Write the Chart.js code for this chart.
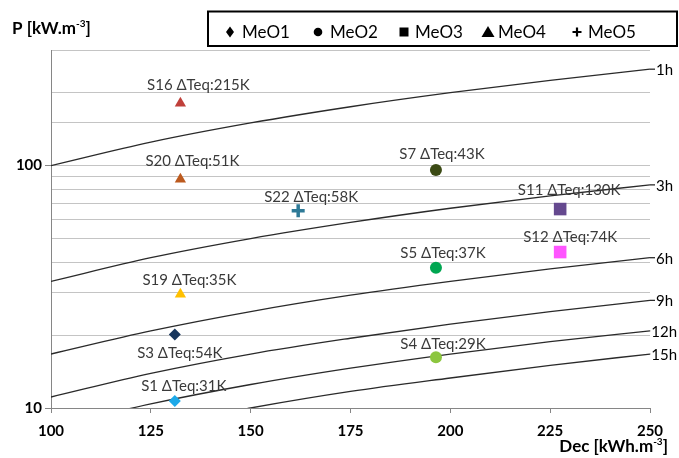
<!DOCTYPE html>
<html>
<head>
<meta charset="utf-8">
<script src="https://cdn.jsdelivr.net/npm/chart.js@4/dist/chart.umd.min.js"></script>
<style>
  html, body { margin: 0; padding: 0; background: #ffffff; }
  #wrap { width: 679px; height: 458px; position: relative; }
</style>
</head>
<body>
<div id="wrap"><canvas id="c" width="679" height="458"></canvas></div>
<script>
// ---------------- DATA ----------------
const decTicks = [100, 125, 150, 175, 200, 225, 250];
const pTickLabels = [10, 100];

const curveLabels = ['1h', '3h', '6h', '9h', '12h', '15h'];
const curveDec = [100, 125, 150, 175, 200, 225, 250];
const curveP1h  = [100, 125, 150, 175, 200, 225, 250];
const curveP3h  = [33.3, 41.7, 50, 58.3, 66.7, 75, 83.3];
const curveP6h  = [16.7, 20.8, 25, 29.2, 33.3, 37.5, 41.7];
const curveP9h  = [11.1, 13.9, 16.7, 19.4, 22.2, 25, 27.8];
const curveP12h = [8.33, 10.4, 12.5, 14.6, 16.7, 18.8, 20.8];
const curveP15h = [6.67, 8.33, 10, 11.7, 13.3, 15, 16.7];

const methods = ['MeO1', 'MeO2', 'MeO3', 'MeO4', 'MeO5'];
const sampleNames  = ['S1 ΔTeq:31K', 'S3 ΔTeq:54K', 'S4 ΔTeq:29K', 'S5 ΔTeq:37K', 'S7 ΔTeq:43K',
                      'S11 ΔTeq:130K', 'S12 ΔTeq:74K', 'S16 ΔTeq:215K', 'S19 ΔTeq:35K', 'S20 ΔTeq:51K', 'S22 ΔTeq:58K'];
const sampleMethod = ['MeO1', 'MeO1', 'MeO2', 'MeO2', 'MeO2', 'MeO3', 'MeO3', 'MeO4', 'MeO4', 'MeO4', 'MeO5'];
const sampleDec    = [131, 131, 196.4, 196.4, 196.4, 227.5, 227.5, 132.4, 132.4, 132.4, 161.9];
const sampleP      = [10.7, 20.1, 16.2, 37.9, 95.9, 66.2, 44.0, 180.8, 29.5, 87.8, 65.2];

// ---------------- STYLE ----------------
const FONT = 'Lato, "Open Sans", "DejaVu Sans", sans-serif';
const C_GRID = '#C4C4C4', C_AXIS = '#868686', C_LABEL = '#3A3A3A', C_CURVE = '#2A2A2A';
const methodStyle = {
  MeO1: { pointStyle: 'rectRot',  radius: 6   },
  MeO2: { pointStyle: 'circle',   radius: 6   },
  MeO3: { pointStyle: 'rect',     radius: 8.9 },
  MeO4: { pointStyle: 'triangle', radius: 6.5 },
  MeO5: { pointStyle: 'cross',    radius: 6.5 }
};
const sampleColor = {
  S1: '#1CA9E9', S3: '#17365D', S4: '#8CC63F', S5: '#00A651', S7: '#3B4A14',
  S11: '#65498F', S12: '#FF55FF', S16: '#C0403A', S19: '#FFC000', S20: '#BC5A1E', S22: '#2E7A97'
};
// label centre offset from the marker, in pixels
const labelOffset = {
  S1: [9, -15], S3: [5, 19], S4: [7, -13], S5: [7, -15], S7: [6, -16],
  S11: [9, -19], S12: [10, -15], S16: [18, -18], S19: [9, -14], S20: [12, -18], S22: [13, -14]
};
const legendLayout = {
  box: [208, 11.5, 469, 34.5], cy: 32,
  symX: [230, 318, 404, 488, 577], textX: [242, 330, 415, 498, 588]
};

// ---------------- BUILD ----------------
const curveSeries = [curveP1h, curveP3h, curveP6h, curveP9h, curveP12h, curveP15h];
const curveDatasets = curveSeries.map((vals, i) => ({
  type: 'line',
  label: curveLabels[i],
  data: curveDec.map((d, j) => ({ x: d, y: vals[j] })),
  borderColor: C_CURVE,
  borderWidth: 1.3,
  pointRadius: 0,
  fill: false,
  cubicInterpolationMode: 'monotone',
  order: 2,
  isCurve: true
}));

const pointDatasets = methods.map(m => {
  const idx = sampleNames.map((_, i) => i).filter(i => sampleMethod[i] === m);
  const ids = idx.map(i => sampleNames[i].split(' ')[0]);
  const cols = ids.map(id => sampleColor[id]);
  const st = methodStyle[m];
  return {
    type: 'scatter',
    label: m,
    data: idx.map(i => ({ x: sampleDec[i], y: sampleP[i], name: sampleNames[i] })),
    pointStyle: st.pointStyle,
    pointRadius: st.radius,
    pointHoverRadius: st.radius,
    backgroundColor: cols,
    borderColor: cols,
    borderWidth: m === 'MeO5' ? 3.5 : 0,
    showLine: false,
    order: 1
  };
});

const overlay = {
  id: 'overlay',
  afterDatasetsDraw(chart) {
    const ctx = chart.ctx;
    const area = chart.chartArea;
    ctx.save();
    // point labels
    ctx.font = '15px ' + FONT;
    ctx.fillStyle = C_LABEL;
    ctx.textAlign = 'center';
    ctx.textBaseline = 'middle';
    chart.data.datasets.forEach((ds, di) => {
      if (ds.isCurve) return;
      const meta = chart.getDatasetMeta(di);
      meta.data.forEach((el, k) => {
        const name = ds.data[k].name;
        const id = name.split(' ')[0];
        const off = labelOffset[id] || [8, -16];
        ctx.fillText(name, el.x + off[0], el.y + off[1]);
      });
    });
    // curve end labels
    ctx.font = '15px ' + FONT;
    ctx.fillStyle = '#000';
    ctx.textAlign = 'left';
    ctx.strokeStyle = C_CURVE;
    ctx.lineWidth = 1.3;
    chart.data.datasets.forEach((ds, di) => {
      if (!ds.isCurve) return;
      const meta = chart.getDatasetMeta(di);
      const last = meta.data[meta.data.length - 1];
      const w = ctx.measureText(ds.label).width;
      const tx = Math.min(area.right + 6, chart.width - 2 - w);
      ctx.beginPath();
      ctx.moveTo(area.right, last.y);
      ctx.lineTo(Math.max(area.right, tx - 1), last.y);
      ctx.stroke();
      ctx.fillText(ds.label, tx, last.y + 1);
    });
    ctx.restore();
  },
  afterDraw(chart) {
    const ctx = chart.ctx;
    ctx.save();
    // axis titles with superscripts
    const drawTitle = (parts, x, y, align) => {
      const big = 'bold 17px ' + FONT, small = 'bold 10px ' + FONT;
      let w = 0;
      parts.forEach(p => { ctx.font = p.sup ? small : big; w += ctx.measureText(p.t).width; });
      let cx = align === 'right' ? x - w : x;
      ctx.textAlign = 'left';
      ctx.textBaseline = 'alphabetic';
      ctx.fillStyle = '#000';
      parts.forEach(p => {
        ctx.font = p.sup ? small : big;
        ctx.fillText(p.t, cx, p.sup ? y - 7 : y);
        cx += ctx.measureText(p.t).width;
      });
    };
    drawTitle([{ t: 'P [kW.m' }, { t: '-3', sup: true }, { t: ']' }], 12, 34, 'left');
    drawTitle([{ t: 'Dec [kWh.m' }, { t: '-3', sup: true }, { t: ']' }], 668, 452, 'right');

    // legend box
    const b = legendLayout.box;
    ctx.lineWidth = 2;
    ctx.strokeStyle = '#000';
    ctx.strokeRect(b[0], b[1], b[2], b[3]);
    const cy = legendLayout.cy;
    methods.forEach((m, i) => {
      const sx = legendLayout.symX[i];
      ctx.fillStyle = '#000';
      ctx.strokeStyle = '#000';
      ctx.beginPath();
      const st = methodStyle[m].pointStyle;
      if (st === 'rectRot') {
        ctx.moveTo(sx, cy - 5.5); ctx.lineTo(sx + 4, cy); ctx.lineTo(sx, cy + 5.5); ctx.lineTo(sx - 4, cy);
        ctx.closePath(); ctx.fill();
      } else if (st === 'circle') {
        ctx.arc(sx, cy, 4.3, 0, Math.PI * 2); ctx.fill();
      } else if (st === 'rect') {
        ctx.rect(sx - 4.5, cy - 4.5, 9, 9); ctx.fill();
      } else if (st === 'triangle') {
        ctx.moveTo(sx, cy - 6); ctx.lineTo(sx + 6.5, cy + 5); ctx.lineTo(sx - 6.5, cy + 5);
        ctx.closePath(); ctx.fill();
      } else {
        ctx.lineWidth = 2.2;
        ctx.moveTo(sx - 4.5, cy); ctx.lineTo(sx + 4.5, cy);
        ctx.moveTo(sx, cy - 4.5); ctx.lineTo(sx, cy + 4.5);
        ctx.stroke();
      }
      ctx.font = '17px ' + FONT;
      ctx.textAlign = 'left';
      ctx.textBaseline = 'alphabetic';
      ctx.fillText(m, legendLayout.textX[i], cy + 6);
    });
    ctx.restore();
  }
};

new Chart(document.getElementById('c'), {
  type: 'scatter',
  data: { datasets: [...pointDatasets, ...curveDatasets] },
  options: {
    responsive: false,
    animation: false,
    devicePixelRatio: 1,
    layout: { padding: { top: 50, right: 29, left: 0, bottom: 0 } },
    plugins: { legend: { display: false }, tooltip: { enabled: false } },
    scales: {
      x: {
        type: 'linear',
        min: decTicks[0],
        max: decTicks[decTicks.length - 1],
        afterBuildTicks: s => { s.ticks = decTicks.map(v => ({ value: v })); },
        afterFit: s => { s.height = 50; },
        ticks: {
          autoSkip: false,
          maxRotation: 0,
          padding: 9,
          color: '#000',
          font: { family: FONT, size: 15, weight: 'bold' },
          callback: v => String(v)
        },
        grid: { drawOnChartArea: false, drawTicks: true, tickLength: 5, tickColor: C_AXIS, tickWidth: 1 },
        border: { display: true, color: C_AXIS, width: 1 }
      },
      y: {
        type: 'logarithmic',
        min: 10,
        max: 300,
        afterFit: s => { s.width = 51; },
        ticks: {
          autoSkip: false,
          padding: 3,
          color: '#000',
          font: { family: FONT, size: 15, weight: 'bold' },
          callback: v => (pTickLabels.includes(v) ? String(v) : '')
        },
        grid: {
          color: C_GRID,
          lineWidth: 1,
          tickLength: 6,
          tickColor: c => (c.tick && pTickLabels.includes(c.tick.value) ? C_AXIS : 'rgba(0,0,0,0)')
        },
        border: { display: true, color: C_AXIS, width: 1 }
      }
    }
  },
  plugins: [overlay]
});
</script>
</body>
</html>
